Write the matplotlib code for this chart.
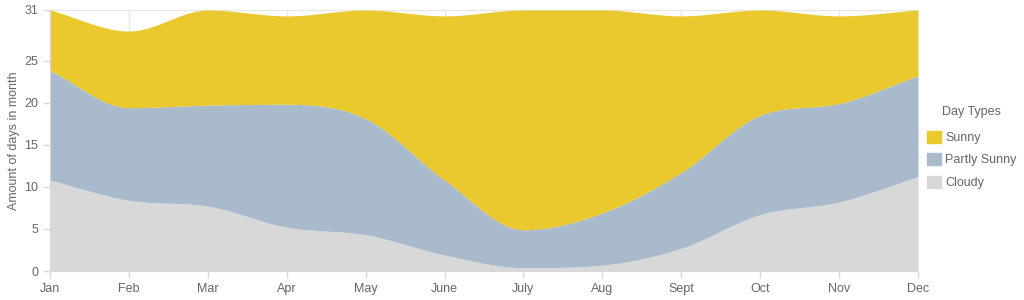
import numpy as np
import matplotlib.pyplot as plt
from matplotlib.patches import Patch

# ---------------------------------------------------------------------------
# Data
months = ['Jan', 'Feb', 'Mar', 'Apr', 'May', 'June', 'July', 'Aug', 'Sept',
          'Oct', 'Nov', 'Dec']
cloudy = [10.8, 8.4, 7.7, 5.2, 4.3, 1.9, 0.4, 0.7, 2.7, 6.7, 8.2, 11.2]
partly_sunny = [13.0, 11.0, 12.0, 14.6, 13.8, 8.9, 4.5, 6.2, 9.0, 11.8, 11.7, 12.0]
sunny = [7.2, 9.1, 11.3, 10.5, 12.9, 19.5, 26.1, 24.1, 18.6, 12.5, 10.4, 7.8]
y_ticks = [0, 5, 10, 15, 20, 25, 31]

colors = {'Sunny': '#eac92e', 'Partly Sunny': '#a8bacb', 'Cloudy': '#d8d8d8'}
text_col = '#666666'


# monotone cubic curve through the stacked points (like chart.js 'monotone')
def monotone(x, y, n=40):
    x = np.asarray(x, float)
    y = np.asarray(y, float)
    h = np.diff(x)
    d = np.diff(y) / h
    m = np.zeros_like(y)
    m[0], m[-1] = d[0], d[-1]
    for i in range(1, len(y) - 1):
        m[i] = 0 if d[i - 1] * d[i] <= 0 else (d[i - 1] + d[i]) / 2
    for i in range(len(d)):
        if d[i] == 0:
            m[i] = m[i + 1] = 0
            continue
        a, b = m[i] / d[i], m[i + 1] / d[i]
        s = a * a + b * b
        if s > 9:
            t = 3 / np.sqrt(s)
            m[i], m[i + 1] = t * a * d[i], t * b * d[i]
    xs, ys = [], []
    for i in range(len(d)):
        t = np.linspace(0, 1, n, endpoint=False)
        h00 = 2 * t**3 - 3 * t**2 + 1
        h10 = t**3 - 2 * t**2 + t
        h01 = -2 * t**3 + 3 * t**2
        h11 = t**3 - t**2
        xs.append(x[i] + t * h[i])
        ys.append(h00 * y[i] + h10 * h[i] * m[i] + h01 * y[i + 1] + h11 * h[i] * m[i + 1])
    xs.append([x[-1]])
    ys.append([y[-1]])
    return np.concatenate(xs), np.concatenate(ys)


plt.rcParams['font.family'] = ['Liberation Sans', 'DejaVu Sans']

fig = plt.figure(figsize=(10.24, 3.0), dpi=100)
ax = fig.add_axes([50 / 1024, 29 / 300, 868 / 1024, 261 / 300])

x = np.arange(len(months))
c1 = np.array(cloudy)
c2 = c1 + np.array(partly_sunny)
c3 = c2 + np.array(sunny)

xs, y1 = monotone(x, c1)
_, y2 = monotone(x, c2)
_, y3 = monotone(x, c3)

ax.fill_between(xs, 0, y1, color=colors['Cloudy'], lw=0, zorder=2)
ax.fill_between(xs, y1, y2, color=colors['Partly Sunny'], lw=0, zorder=2)
ax.fill_between(xs, y2, y3, color=colors['Sunny'], lw=0, zorder=2)

ax.set_xlim(0, len(months) - 1)
ax.set_ylim(0, 31)
ax.set_xticks(x)
ax.set_xticklabels(months)
ax.set_yticks(y_ticks)
ax.grid(True, color='#e6e6e6', lw=1, zorder=0)
ax.tick_params(colors='#d8d8d8', labelcolor=text_col, labelsize=9, length=5, width=1)
for s in ['top', 'right']:
    ax.spines[s].set_visible(False)
for s in ['left', 'bottom']:
    ax.spines[s].set_color('#d8d8d8')
ax.set_ylabel('Amount of days in month', color=text_col, fontsize=9, labelpad=3)

handles = [Patch(color=colors[k]) for k in ['Sunny', 'Partly Sunny', 'Cloudy']]
leg = fig.legend(handles, ['Sunny', 'Partly Sunny', 'Cloudy'], title='Day Types',
                 loc='upper left', bbox_to_anchor=(922 / 1024, 1 - 101 / 300),
                 frameon=False, fontsize=9, title_fontsize=9,
                 handlelength=1.1, handleheight=1.1, handletextpad=0.35,
                 labelspacing=0.75, labelcolor=text_col, borderaxespad=0)
leg.get_title().set_color(text_col)
leg._legend_box.sep = 9

fig.savefig('out.png', dpi=100)
